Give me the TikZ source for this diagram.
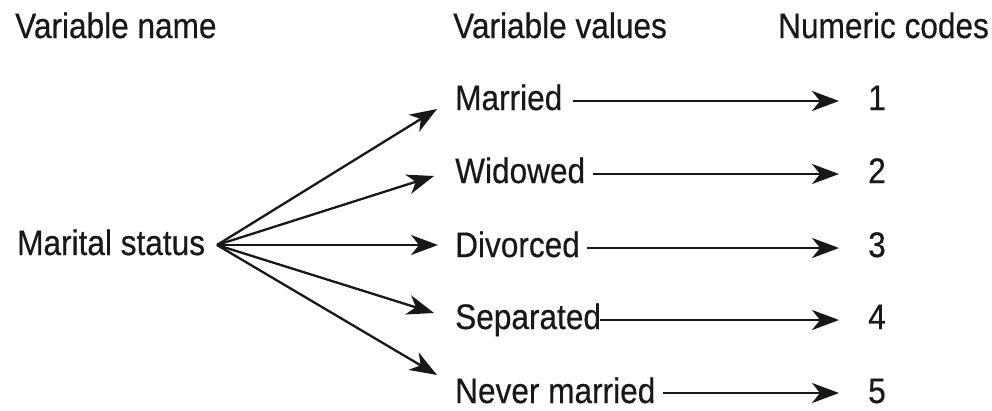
\documentclass[tikz,border=0pt]{standalone}
\usepackage{fontspec}
\setmainfont{Liberation Sans}[FakeStretch=0.89,FakeBold=0.4]
\usetikzlibrary{arrows.meta}
\definecolor{ink}{HTML}{1A1718}
\begin{document}
\begin{tikzpicture}[x=1pt,y=-1pt,
  lbl/.style={inner sep=0pt, anchor=base west, text=ink, font=\fontsize{35.5}{40}\selectfont},
  codelbl/.style={inner sep=0pt, anchor=base, text=ink, font=\fontsize{35.5}{40}\selectfont},
  arr/.style={draw=ink, line width=2.3pt, -{Stealth[length=27pt,width=20pt,inset=8pt]}}]
\useasboundingbox (0,0) rectangle (992,410);
% headers
\node[lbl] (h1) at (15,38) {Variable name};
\node[lbl] (h2) at (453,38) {Variable values};
\node[lbl] (h3) at (778,38) {Numeric codes};
% variable
\node[lbl] (ms) at (17,255) {Marital status};
\coordinate (hub) at (217,245);
% values
\node[lbl] (v1) at (455,110) {Married};
\node[lbl] (v2) at (455,183) {Widowed};
\node[lbl] (v3) at (455,257) {Divorced};
\node[lbl] (v4) at (455,329) {Separated};
\node[lbl] (v5) at (455,403) {Never married};
% codes
\node[codelbl] (n1) at (877,110) {1};
\node[codelbl] (n2) at (877,183) {2};
\node[codelbl] (n3) at (877,257) {3};
\node[codelbl] (n4) at (877,329) {4};
\node[codelbl] (n5) at (877,403) {5};
% fan tips
\coordinate (t1) at (437,109);
\coordinate (t2) at (434,176);
\coordinate (t3) at (438,245);
\coordinate (t4) at (434,313);
\coordinate (t5) at (437,375);
\foreach \i in {1,...,5} \draw[arr] (hub) -- (t\i);
% horizontal arrow starts
\coordinate (s1) at (573,101);
\coordinate (s2) at (593,174);
\coordinate (s3) at (587,248);
\coordinate (s4) at (600,320);
\coordinate (s5) at (663,393);
\foreach \i in {1,...,5} \draw[arr, shorten >=29pt] (s\i) -- (s\i -| n\i.west);
\end{tikzpicture}
\end{document}
